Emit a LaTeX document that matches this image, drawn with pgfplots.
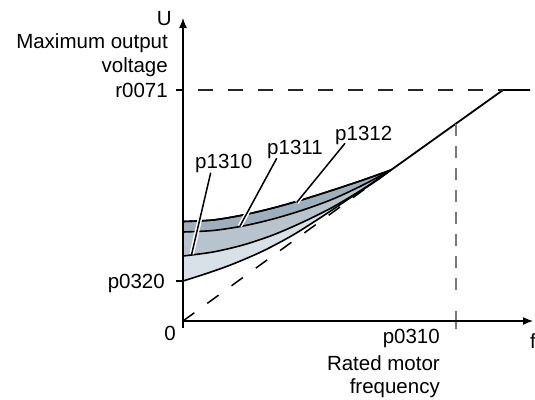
\documentclass[border=0pt]{standalone}
\usepackage{fontspec}
\setmainfont{Liberation Sans}
\usepackage{pgfplots}
\pgfplotsset{compat=1.18}
\usepgfplotslibrary{fillbetween}
\usetikzlibrary{arrows.meta}
\definecolor{bandA}{RGB}{157,175,189}
\definecolor{bandB}{RGB}{183,196,206}
\definecolor{bandC}{RGB}{216,225,232}
\definecolor{vgray}{RGB}{120,120,120}
\begin{document}
\begin{tikzpicture}[font=\fontsize{20.5bp}{24bp}\selectfont]
\begin{axis}[x=1bp, y=1bp, xmin=-183, xmax=352, ymin=-78, ymax=321,
  hide axis, clip=false]
\coordinate (bl) at (axis cs:-183,-78);
\coordinate (tr) at (axis cs:352,321);
% curves
\addplot[name path=top, draw=black, line width=1.6bp, smooth] coordinates
  {(0,99.5) (30,101) (60,106) (90,113) (120,121.5) (150,131) (180,141) (208,151)};
\addplot[name path=mid, draw=none, smooth] coordinates
  {(0,89) (30,90.5) (60,95) (90,102) (120,111) (150,122) (180,136) (208,151)};
\addplot[name path=low, draw=none, smooth] coordinates
  {(0,65) (30,69) (60,76) (90,86) (120,99) (150,114) (180,132) (208,151)};
\addplot[name path=bot, draw=none, smooth] coordinates
  {(0,40) (25,48) (50,57) (80,70) (110,86) (140,105) (170,125) (190,138) (208,151)};
\addplot[bandA] fill between[of=top and mid];
\addplot[bandB] fill between[of=mid and low];
\addplot[bandC] fill between[of=low and bot];
\addplot[draw=black, line width=1.6bp, smooth] coordinates
  {(0,99.5) (30,101) (60,106) (90,113) (120,121.5) (150,131) (180,141) (208,151)};
\addplot[draw=black, line width=1.6bp, smooth] coordinates
  {(0,89) (30,90.5) (60,95) (90,102) (120,111) (150,122) (180,136) (208,151)};
\addplot[draw=black, line width=1.6bp, smooth] coordinates
  {(0,65) (30,69) (60,76) (90,86) (120,99) (150,114) (180,132) (208,151)};
\addplot[draw=black, line width=1.6bp, smooth] coordinates
  {(0,40) (25,48) (50,57) (80,70) (110,86) (140,105) (170,125) (190,138) (208,151)};
% straight lines
\addplot[draw=black, line width=1.5bp, dash pattern=on 14bp off 16bp] coordinates {(0,0) (208,151)};
\addplot[draw=black, line width=1.8bp] coordinates {(208,151) (320,231) (347,231)};
\addplot[draw=black!85, line width=1.3bp, dash pattern=on 15bp off 15bp, dash phase=15bp] coordinates {(0,231) (320,231)};
\addplot[draw=vgray, line width=1.3bp, dash pattern=on 12bp off 10bp] coordinates {(273,197) (273,22)};
\addplot[draw=vgray, line width=1.3bp] coordinates {(273,10) (273,-8)};
% ticks
\addplot[draw=black, line width=1.1bp] coordinates {(-7,231) (0,231)};
\addplot[draw=black, line width=1.1bp] coordinates {(-7,40) (0,40)};
% axes
\draw[line width=1.3bp, -{Latex[length=10bp,width=8bp]}] (axis cs:0,-7) -- (axis cs:0,303);
\draw[line width=1.3bp, -{Latex[length=10bp,width=8bp]}] (axis cs:0,0) -- (axis cs:350,0);
% leader lines
\draw[white, line width=4.5bp] (axis cs:27.7,148.3) -- (axis cs:8.7,67);
\draw[black, line width=1.5bp] (axis cs:27.7,148.3) -- (axis cs:8.7,67);
\draw[white, line width=4.5bp] (axis cs:93.7,162.7) -- (axis cs:57,95);
\draw[black, line width=1.5bp] (axis cs:93.7,162.7) -- (axis cs:57,95);
\draw[white, line width=4.5bp] (axis cs:162,177.7) -- (axis cs:113.7,118.5);
\draw[black, line width=1.5bp] (axis cs:162,177.7) -- (axis cs:113.7,118.5);
% labels
\node[anchor=base west, inner sep=0] at (axis cs:12,153) {p1310};
\node[anchor=base west, inner sep=0] at (axis cs:84,167) {p1311};
\node[anchor=base west, inner sep=0] at (axis cs:152,181) {p1312};
\node[anchor=base east, inner sep=0] at (axis cs:-11,296) {U};
\node[anchor=base east, inner sep=0] at (axis cs:-15,273) {Maximum output};
\node[anchor=base east, inner sep=0] at (axis cs:-15,249) {voltage};
\node[anchor=base east, inner sep=0] at (axis cs:-15,224) {r0071};
\node[anchor=base east, inner sep=0] at (axis cs:-18,33) {p0320};
\node[anchor=base east, inner sep=0] at (axis cs:-7,-19) {0};
\node[anchor=base east, inner sep=0] at (axis cs:257,-22) {p0310};
\node[anchor=base east, inner sep=0] at (axis cs:257,-49) {Rated motor};
\node[anchor=base east, inner sep=0] at (axis cs:257,-72) {frequency};
\node[anchor=base west, inner sep=0] at (axis cs:347,-27) {f};
\end{axis}
\pgfresetboundingbox
\path[use as bounding box] (bl) rectangle (tr);
\end{tikzpicture}
\end{document}
